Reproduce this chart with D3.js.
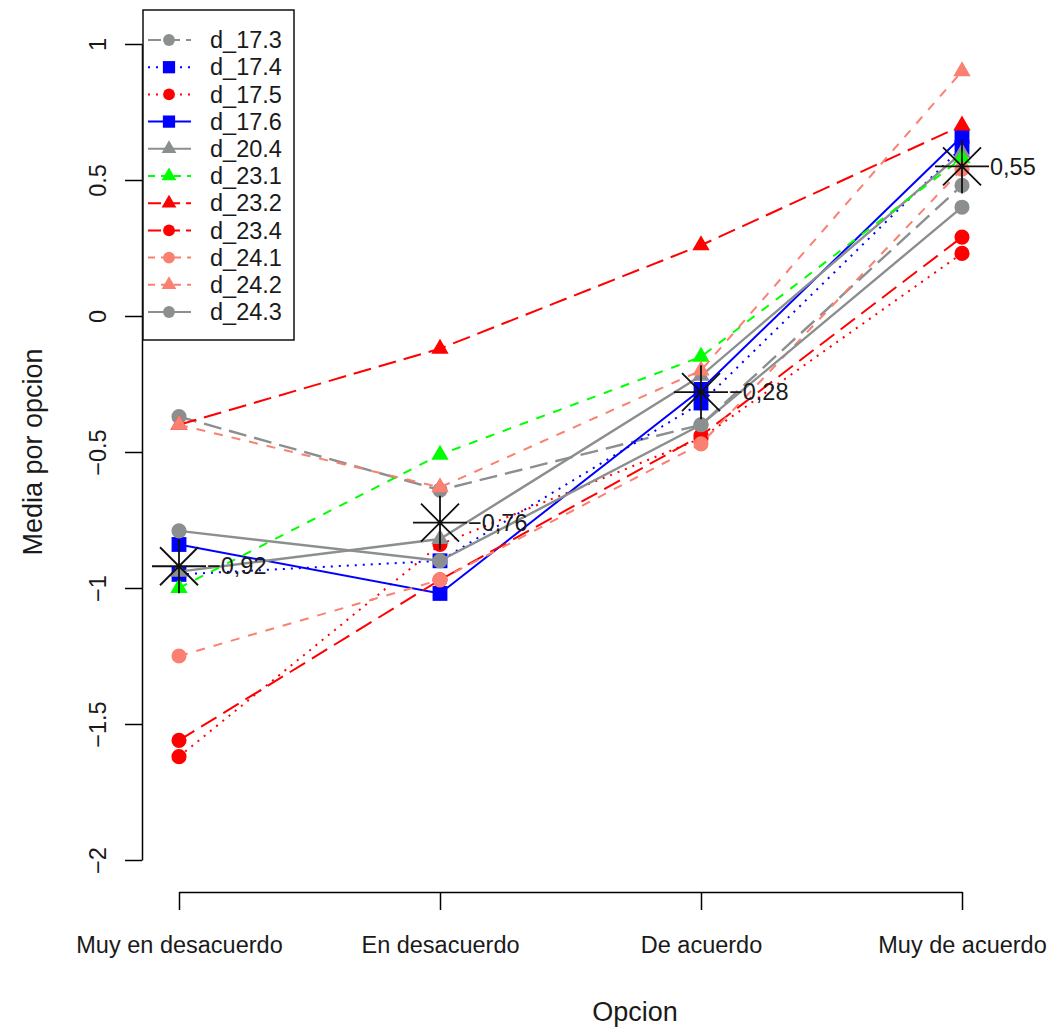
<!DOCTYPE html>
<html>
<head>
<meta charset="utf-8">
<script src="https://cdn.jsdelivr.net/npm/d3@7"></script>
<style>
    body { margin: 0; background: #fff; }
    text { font-family: "Liberation Sans", Arial, sans-serif; fill: #1a1a1a; }
</style>
</head>
<body>
<svg id="chart" width="1051" height="1032"></svg>
<script>
// ========== Data ==========

const categories = ["Muy en desacuerdo", "En desacuerdo", "De acuerdo", "Muy de acuerdo"];
const seriesNames = ["d_17.3", "d_17.4", "d_17.5", "d_17.6", "d_20.4", "d_23.1",
                     "d_23.2", "d_23.4", "d_24.1", "d_24.2", "d_24.3"];

const d17_3 = [-0.37, -0.64, -0.40, 0.48];
const d17_4 = [-0.95, -0.90, -0.32, 0.62];
const d17_5 = [-1.62, -0.84, -0.45, 0.23];
const d17_6 = [-0.84, -1.02, -0.27, 0.66];
const d20_4 = [-0.94, -0.82, -0.22, 0.60];
const d23_1 = [-1.00, -0.51, -0.15, 0.58];
const d23_2 = [-0.40, -0.12, 0.26, 0.70];
const d23_4 = [-1.56, -0.97, -0.44, 0.29];
const d24_1 = [-1.25, -0.97, -0.47, 0.54];
const d24_2 = [-0.40, -0.63, -0.20, 0.90];
const d24_3 = [-0.79, -0.90, -0.40, 0.40];

const seriesValues = [d17_3, d17_4, d17_5, d17_6, d20_4, d23_1, d23_2, d23_4, d24_1, d24_2, d24_3];

// media por opcion (etiquetas del grafico)
const meanValues = [-0.92, -0.76, -0.28, 0.55];
const yTicks = [-2, -1.5, -1, -0.5, 0, 0.5, 1];

// ========== Styles ==========

const grey = "#8c8f8f", blue = "#0000ff", red = "#ff0000", green = "#00ff00", salmon = "#fa8072";

const seriesStyles = [
    { color: grey,   dash: "longdash", shape: "circle" },
    { color: blue,   dash: "dotted",   shape: "square" },
    { color: red,    dash: "dotted",   shape: "circle" },
    { color: blue,   dash: "solid",    shape: "square" },
    { color: grey,   dash: "solid",    shape: "triangle" },
    { color: green,  dash: "dashed",   shape: "triangle" },
    { color: red,    dash: "longdash", shape: "triangle" },
    { color: red,    dash: "longdash", shape: "circle" },
    { color: salmon, dash: "dashed",   shape: "circle" },
    { color: salmon, dash: "dashed",   shape: "triangle" },
    { color: grey,   dash: "solid",    shape: "circle" }
];

const dashes = { solid: null, dashed: "9,9", dotted: "2,6", longdash: "18,8" };
const legendDashes = { solid: null, dashed: "7,6", dotted: "2,6", longdash: "13,6" };
const shapes = { circle: d3.symbolCircle, square: d3.symbolSquare, triangle: d3.symbolTriangle };
const shapeSize = { circle: 180, square: 220, triangle: 130 };
const legendSize = { circle: 110, square: 150, triangle: 95 };

// ========== Scales and Axes ==========

const svg = d3.select("#chart");

const x = d3.scalePoint()
    .domain(categories)
    .range([179, 962]);

const y = d3.scaleLinear()
    .domain([-2, 1])
    .range([860, 44]);

const fontSize = 23.5;

const yAxis = svg.append("g")
    .attr("transform", "translate(142,0)")
    .call(d3.axisLeft(y).tickValues(yTicks).tickSize(17).tickSizeOuter(0).tickFormat(d3.format("~g")));

yAxis.select(".domain").attr("stroke-width", 1.5);
yAxis.selectAll(".tick line").attr("stroke-width", 1.5);
yAxis.selectAll(".tick text")
    .attr("x", 0)
    .attr("y", -36)
    .attr("dy", 0)
    .attr("transform", "rotate(-90)")
    .attr("text-anchor", "middle")
    .style("font-size", fontSize + "px")
    .style("font-family", "'Liberation Sans', Arial, sans-serif")
    .attr("fill", "#1a1a1a");

const xAxis = svg.append("g")
    .attr("transform", "translate(0,892)")
    .call(d3.axisBottom(x).tickSize(18).tickSizeOuter(0).tickPadding(26));

xAxis.select(".domain").attr("stroke-width", 1.5);
xAxis.selectAll(".tick line").attr("stroke-width", 1.5);
xAxis.selectAll(".tick text")
    .style("font-size", fontSize + "px")
    .style("font-family", "'Liberation Sans', Arial, sans-serif")
    .attr("fill", "#1a1a1a");

svg.append("text")
    .attr("x", 635)
    .attr("y", 1021)
    .attr("text-anchor", "middle")
    .style("font-size", "27px")
    .text("Opcion");

svg.append("text")
    .attr("transform", "translate(42,452) rotate(-90)")
    .attr("text-anchor", "middle")
    .style("font-size", "27px")
    .text("Media por opcion");

// ========== Series ==========

const line = d3.line()
    .x((d, i) => x(categories[i]))
    .y(d => y(d));

seriesValues.forEach((values, k) => {
    const st = seriesStyles[k];
    const g = svg.append("g").attr("class", "series");

    g.append("path")
        .datum(values)
        .attr("fill", "none")
        .attr("stroke", st.color)
        .attr("stroke-width", st.color === grey ? 2.4 : 2)
        .attr("stroke-dasharray", dashes[st.dash])
        .attr("d", line);

    g.selectAll("path.pt")
        .data(values)
        .join("path")
        .attr("class", "pt")
        .attr("transform", (d, i) => `translate(${x(categories[i])},${y(d)})`)
        .attr("d", d3.symbol(shapes[st.shape], shapeSize[st.shape]))
        .attr("fill", st.color);
});

// ========== Means ==========

const star = "M-27,0H27M0,-27V27M-19,-19L19,19M-19,19L19,-19";
const fmtMean = v => d3.format(".2f")(v).replace(".", ",");

const means = svg.append("g").selectAll("g")
    .data(meanValues)
    .join("g")
    .attr("transform", (d, i) => `translate(${x(categories[i])},${y(d)})`);

means.append("path")
    .attr("d", star)
    .attr("fill", "none")
    .attr("stroke", "#111")
    .attr("stroke-width", 1.8);

means.append("text")
    .attr("x", 28)
    .attr("dy", "0.35em")
    .style("font-size", fontSize + "px")
    .text(fmtMean);

// ========== Legend ==========

const legend = svg.append("g");

legend.append("rect")
    .attr("x", 143)
    .attr("y", 10)
    .attr("width", 151)
    .attr("height", 330)
    .attr("fill", "#fff")
    .attr("stroke", "#111")
    .attr("stroke-width", 1.5);

const rows = legend.selectAll("g.row")
    .data(seriesNames)
    .join("g")
    .attr("class", "row")
    .attr("transform", (d, i) => `translate(0,${40 + i * 27.2})`);

rows.append("line")
    .attr("x1", 148)
    .attr("x2", 191)
    .attr("stroke", (d, i) => seriesStyles[i].color)
    .attr("stroke-width", 2)
    .attr("stroke-dasharray", (d, i) => legendDashes[seriesStyles[i].dash]);

rows.append("path")
    .attr("transform", "translate(169,0)")
    .attr("d", (d, i) => d3.symbol(shapes[seriesStyles[i].shape], legendSize[seriesStyles[i].shape])())
    .attr("fill", (d, i) => seriesStyles[i].color);

rows.append("text")
    .attr("x", 210)
    .attr("dy", "0.35em")
    .style("font-size", fontSize + "px")
    .text(d => d);
</script>
</body>
</html>
